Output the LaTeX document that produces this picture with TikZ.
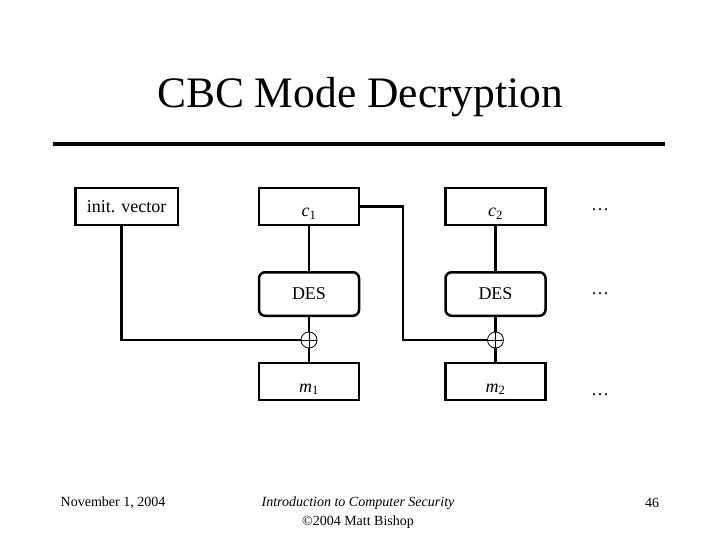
\documentclass[tikz,border=0pt]{standalone}
\usepackage{fontspec}
\setmainfont{Liberation Serif}
\begin{document}
\begin{tikzpicture}[x=1pt,y=-1pt,
    box/.style={draw,line width=2.5pt,inner sep=0pt,minimum width=100pt,minimum height=37pt,font=\fontsize{18}{20}\selectfont},
    varbox/.style={box,text height=21pt,text depth=0pt},
    desbox/.style={box,rounded corners=6pt,minimum height=43.5pt},
    xorop/.style={draw,circle,line width=0.8pt,inner sep=0pt,minimum size=16pt},
    wire/.style={line width=2.5pt},
    foot/.style={font=\fontsize{14}{16}\selectfont}]
    \useasboundingbox (0,0) rectangle (720,540);

    % Title and rule
    \node[font=\fontsize{43.5}{48}\selectfont] (title) at (360,97) {CBC Mode Decryption};
    \draw[line width=4pt] (53,144) -- (665,144);

    % Boxes
    \node[box,minimum width=102.5pt] (iv) at (126.5,206.5) {init. vector};
    \node[varbox] (c1) at (309,206.5) {\textit{c}\textsubscript{1}};
    \node[varbox] (c2) at (495.5,206.5) {\textit{c}\textsubscript{2}};
    \node[desbox] (des1) at (309,294) {DES};
    \node[desbox] (des2) at (495.5,294) {DES};
    \node[varbox] (m1) at (309,381.5) {\textit{m}\textsubscript{1}};
    \node[varbox] (m2) at (495.5,381.5) {\textit{m}\textsubscript{2}};

    % XOR
    \node[xorop] (x1) at (309,340) {};
    \node[xorop] (x2) at (495.5,340) {};
    \draw[line width=0.8pt] (x1.north) -- (x1.south) (x1.west) -- (x1.east);
    \draw[line width=0.8pt] (x2.north) -- (x2.south) (x2.west) -- (x2.east);

    % Wires
    \draw[wire] (c1.south) -- (des1.north);
    \draw[wire] (des1.south) -- (x1.north);
    \draw[wire] (x1.south) -- (m1.north);
    \draw[wire] (c2.south) -- (des2.north);
    \draw[wire] (des2.south) -- (x2.north);
    \draw[wire] (x2.south) -- (m2.north);
    \draw[wire] ([xshift=-5pt]iv.south) |- (x1.west);
    \coordinate (turn) at (403,340);
    \draw[wire] (c1.east) -| (turn) -- (x2.west);

    % Dots
    \node[font=\fontsize{18}{20}\selectfont] (dots1) at (600,210) {\dots};
    \node[font=\fontsize{18}{20}\selectfont] (dots2) at (600,294) {\dots};
    \node[font=\fontsize{18}{20}\selectfont] (dots3) at (600,395) {\dots};

    % Footer
    \node[foot] (date) at (113,503) {November 1, 2004};
    \node[foot,font=\fontsize{14}{16}\selectfont\itshape] (course) at (358,503) {Introduction to Computer Security};
    \node[foot] (copy) at (358,522) {\textcopyright 2004 Matt Bishop};
    \node[foot] (page) at (652,503) {46};
\end{tikzpicture}
\end{document}
